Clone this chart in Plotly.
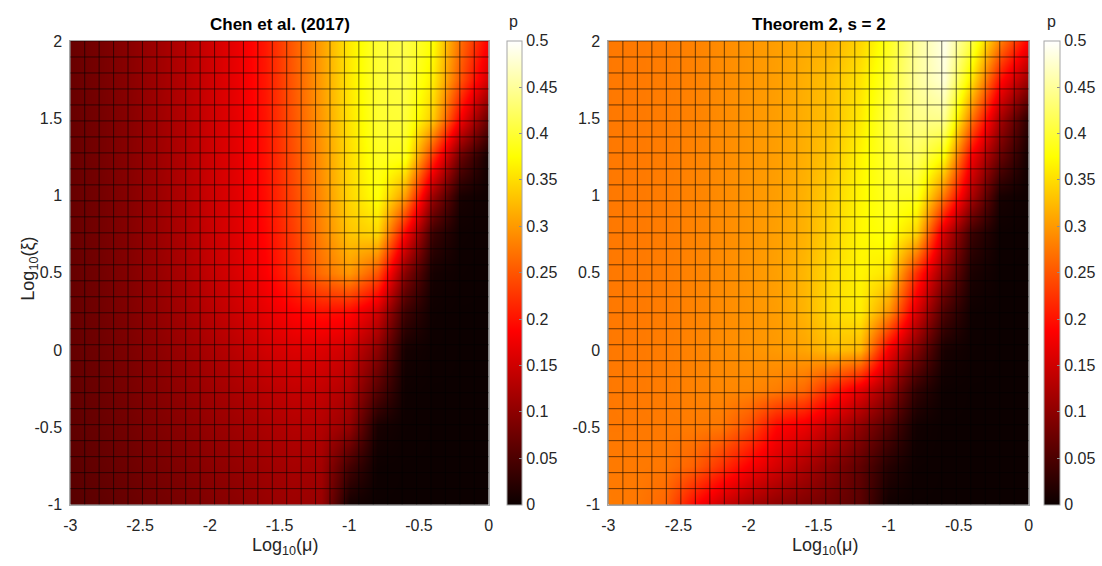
import numpy as np
import plotly.graph_objects as go

# ---------------- data ----------------
MU = [-3.0, -2.8, -2.6, -2.4, -2.2, -2.0, -1.8, -1.6, -1.4, -1.2, -1.0, -0.8, -0.6, -0.4, -0.2, 0.0]
XI = [-1.0, -0.75, -0.5, -0.25, 0.0, 0.25, 0.5, 0.75, 1.0, 1.25, 1.5, 1.75, 2.0]

# rows: XI from -1 (first) to 2 (last); columns follow MU
P_CHEN = [
    [.059, .065, .072, .079, .085, .092, .099, .108, .112, .108, .006, .001, .001, .001, .001, .001],
    [.062, .069, .076, .084, .091, .099, .106, .114, .119, .116, .045, .002, .001, .001, .001, .001],
    [.065, .072, .080, .089, .097, .106, .114, .123, .129, .128, .105, .010, .002, .001, .001, .001],
    [.067, .075, .084, .094, .104, .114, .124, .135, .142, .141, .128, .060, .003, .001, .001, .001],
    [.069, .077, .087, .098, .110, .122, .136, .152, .160, .160, .150, .100, .008, .002, .001, .001],
    [.070, .079, .090, .103, .117, .133, .150, .170, .188, .200, .195, .155, .040, .003, .001, .001],
    [.070, .080, .092, .106, .122, .141, .160, .185, .222, .268, .300, .250, .095, .008, .002, .001],
    [.071, .081, .093, .108, .125, .145, .164, .192, .232, .283, .332, .345, .185, .035, .003, .002],
    [.071, .081, .094, .109, .127, .147, .166, .197, .240, .290, .345, .380, .300, .110, .010, .003],
    [.071, .082, .095, .110, .128, .148, .168, .200, .245, .295, .350, .390, .385, .220, .070, .005],
    [.071, .082, .095, .111, .129, .149, .170, .202, .250, .300, .355, .398, .402, .335, .180, .070],
    [.072, .083, .096, .112, .130, .150, .172, .204, .253, .303, .358, .400, .408, .360, .245, .150],
    [.072, .083, .096, .112, .130, .150, .172, .205, .255, .305, .360, .400, .410, .375, .265, .185],
]

P_THM2 = [
    [.278, .275, .262, .195, .148, .120, .100, .088, .077, .060, .004, .001, .001, .001, .001, .001],
    [.277, .277, .275, .260, .225, .185, .155, .125, .095, .065, .020, .002, .001, .001, .001, .001],
    [.276, .276, .277, .278, .275, .245, .190, .172, .138, .100, .055, .005, .001, .001, .001, .001],
    [.276, .277, .279, .283, .287, .287, .280, .265, .215, .170, .110, .030, .002, .001, .001, .001],
    [.276, .277, .279, .284, .290, .295, .300, .308, .328, .320, .180, .090, .010, .002, .001, .001],
    [.276, .277, .279, .284, .290, .296, .303, .320, .350, .362, .298, .160, .050, .003, .001, .001],
    [.276, .277, .279, .284, .290, .297, .305, .322, .350, .368, .355, .220, .100, .012, .001, .001],
    [.276, .277, .279, .284, .290, .297, .305, .318, .345, .370, .382, .340, .150, .035, .002, .001],
    [.276, .277, .279, .284, .290, .297, .304, .318, .342, .370, .392, .390, .270, .120, .010, .002],
    [.276, .277, .279, .284, .290, .297, .304, .316, .335, .368, .400, .420, .370, .175, .070, .004],
    [.276, .277, .279, .283, .290, .297, .304, .316, .330, .360, .410, .440, .445, .270, .120, .025],
    [.276, .277, .279, .283, .290, .297, .304, .316, .330, .355, .400, .450, .480, .350, .195, .110],
    [.276, .277, .279, .283, .290, .297, .304, .313, .320, .345, .390, .450, .490, .405, .280, .185],
]

MU_TICKS = [-3, -2.5, -2, -1.5, -1, -0.5, 0]
MU_TICKTEXT = ["-3", "-2.5", "-2", "-1.5", "-1", "-0.5", "0"]
XI_TICKS = [-1, -0.5, 0, 0.5, 1, 1.5, 2]
XI_TICKTEXT = ["-1", "-0.5", "0", "0.5", "1", "1.5", "2"]
P_TICKS = [0, 0.05, 0.1, 0.15, 0.2, 0.25, 0.3, 0.35, 0.4, 0.45, 0.5]
P_TICKTEXT = ["0", "0.05", "0.1", "0.15", "0.2", "0.25", "0.3", "0.35", "0.4", "0.45", "0.5"]
TITLES = ["Chen et al. (2017)", "Theorem 2, s = 2"]
N_MESH = 30  # mesh lines of the surface in each direction

# ---------------- style ----------------
W, H = 1102, 566
FONT = "Liberation Sans, Arial, Helvetica, sans-serif"
TXT = "#262626"
HOT = [[0.0, "rgb(11,0,0)"], [0.375, "rgb(255,0,0)"], [0.75, "rgb(255,255,0)"], [1.0, "rgb(255,255,255)"]]

PLOT_TOP, PLOT_BOT = 34, 512
PANELS = [dict(x0=64, x1=487, cb=505, cbw=15), dict(x0=608, x1=1033, cb=1048, cbw=16)]

def px(v):
    return v / W

def py(v):
    return 1 - v / H

mu_min, mu_max = min(MU), max(MU)
xi_min, xi_max = min(XI), max(XI)
mesh_mu = np.linspace(mu_min, mu_max, N_MESH)
mesh_xi = np.linspace(xi_min, xi_max, N_MESH)

fig = go.Figure()
for i, (z, pan) in enumerate(zip([P_CHEN, P_THM2], PANELS)):
    xa = "x" if i == 0 else "x2"
    ya = "y" if i == 0 else "y2"
    fig.add_trace(go.Heatmap(
        x=MU, y=XI, z=z, zmin=0, zmax=0.5, zsmooth="best", colorscale=HOT,
        xaxis=xa, yaxis=ya, hoverinfo="skip",
        colorbar=dict(
            x=px(pan["cb"]), xanchor="left", y=py(PLOT_BOT), yanchor="bottom",
            len=(PLOT_BOT - PLOT_TOP) / H, lenmode="fraction",
            thickness=pan["cbw"], thicknessmode="pixels", xpad=0, ypad=0,
            outlinewidth=1, outlinecolor="#a6a6a6",
            tickvals=P_TICKS, ticktext=P_TICKTEXT, ticks="inside", ticklen=3,
            tickcolor="#8c8c8c", tickfont=dict(family=FONT, size=16, color=TXT),
        ),
    ))
    gx, gy = [], []
    for m in mesh_mu:
        gx += [m, m, None]
        gy += [xi_min, xi_max, None]
    for k in mesh_xi:
        gx += [mu_min, mu_max, None]
        gy += [k, k, None]
    fig.add_trace(go.Scatter(x=gx, y=gy, mode="lines", xaxis=xa, yaxis=ya,
                             line=dict(color="rgba(0,0,0,0.58)", width=1),
                             hoverinfo="skip", showlegend=False))

axis_common = dict(showgrid=False, zeroline=False, showline=True, mirror=True,
                   linecolor="#a6a6a6", linewidth=1, ticks="",
                   tickfont=dict(family=FONT, size=16, color=TXT))
layout = dict(width=W, height=H, margin=dict(l=0, r=0, t=0, b=0),
              paper_bgcolor="white", plot_bgcolor="white", showlegend=False)
for i, pan in enumerate(PANELS):
    sx = "" if i == 0 else "2"
    layout["xaxis" + sx] = dict(axis_common, domain=[px(pan["x0"]), px(pan["x1"])],
                                range=[mu_min, mu_max], tickvals=MU_TICKS, ticktext=MU_TICKTEXT,
                                anchor="y" + sx, ticklabelstandoff=6)
    layout["yaxis" + sx] = dict(axis_common, domain=[py(PLOT_BOT), py(PLOT_TOP)],
                                range=[xi_min, xi_max], tickvals=XI_TICKS, ticktext=XI_TICKTEXT,
                                anchor="x" + sx, ticklabelstandoff=4)
fig.update_layout(**layout)

ann = []
for i, pan in enumerate(PANELS):
    cx = (pan["x0"] + pan["x1"]) / 2
    ann.append(dict(text="<b>" + TITLES[i] + "</b>", x=px(cx), y=py(17), xref="paper", yref="paper",
                    showarrow=False, xanchor="center", yanchor="middle",
                    font=dict(family=FONT, size=17, color="black")))
    ann.append(dict(text="p", x=px(pan["cb"] + pan["cbw"] / 2), y=py(14), xref="paper", yref="paper",
                    showarrow=False, xanchor="center", yanchor="middle",
                    font=dict(family=FONT, size=16, color=TXT)))
    ann.append(dict(text="Log<sub>10</sub>(\u03bc)", x=px(cx + 6), y=py(541), xref="paper", yref="paper",
                    showarrow=False, xanchor="center", yanchor="top",
                    font=dict(family=FONT, size=18, color=TXT)))
ann.append(dict(text="Log<sub>10</sub>(\u03be)", x=px(23), y=py((PLOT_TOP + PLOT_BOT) / 2 - 4),
                xref="paper", yref="paper", showarrow=False, textangle=-90,
                xanchor="center", yanchor="middle", font=dict(family=FONT, size=18, color=TXT)))
fig.update_layout(annotations=ann)

fig.write_html("out.html")
